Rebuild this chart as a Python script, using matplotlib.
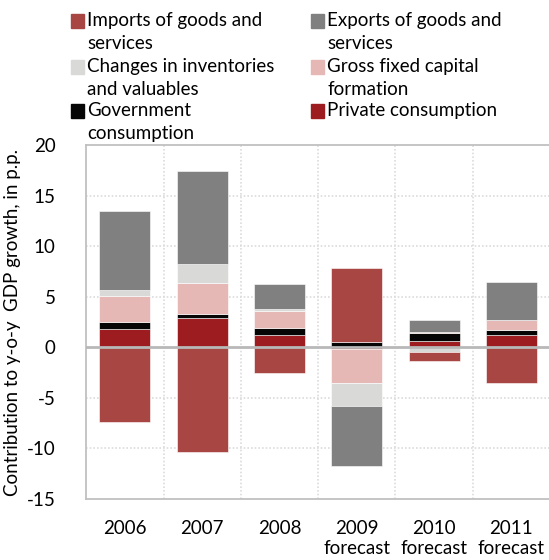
import matplotlib
matplotlib.use("Agg")
import matplotlib.pyplot as plt
from matplotlib.patches import Rectangle
import numpy as np

plt.rcParams['font.family'] = ['Lato', 'DejaVu Sans']
plt.rcParams['axes.unicode_minus'] = False

years = ["2006", "2007", "2008", "2009\nforecast", "2010\nforecast", "2011\nforecast"]

# contributions to GDP growth, percentage points
private_consumption = [1.8, 2.9, 1.2, -0.2, 0.65, 1.2]
government_consumption = [0.7, 0.35, 0.7, 0.5, 0.75, 0.55]
gross_fixed_capital = [2.6, 3.1, 1.7, -3.3, 0.15, 0.95]
inventories = [0.55, 1.9, 0.2, -2.3, -0.45, 0.0]
exports = [7.85, 9.2, 2.45, -5.95, 1.1, 3.75]
imports = [-7.4, -10.4, -2.55, 7.3, -0.95, -3.5]

series = [
    ("Private consumption", private_consumption, "#9c1c20"),
    ("Government\nconsumption", government_consumption, "#060606"),
    ("Gross fixed capital\nformation", gross_fixed_capital, "#e6b8b5"),
    ("Changes in inventories\nand valuables", inventories, "#d9d9d7"),
    ("Exports of goods and\nservices", exports, "#808080"),
    ("Imports of goods and\nservices", imports, "#a84644"),
]

fig = plt.figure(figsize=(5.49, 5.60), dpi=100)
ax = fig.add_axes([0.157, 0.109, 0.845, 0.632])

x = np.arange(len(years))
pos_base = np.zeros(len(years))
neg_base = np.zeros(len(years))
for name, vals, col in series:
    vals = np.array(vals)
    base = np.where(vals >= 0, pos_base, neg_base)
    ax.bar(x, vals, bottom=base, width=0.66, color=col,
           edgecolor="#ffffff", linewidth=0.4, zorder=3)
    pos_base += np.where(vals >= 0, vals, 0)
    neg_base += np.where(vals < 0, vals, 0)

ax.set_xlim(-0.5, len(years) - 0.5)
ax.set_ylim(-15, 20)
ax.set_yticks(range(-15, 21, 5))
ax.set_xticks(x)
ax.set_xticklabels(years, fontsize=13.5, linespacing=1.25)
ax.tick_params(axis="both", length=0, labelsize=13.5)
ax.tick_params(axis="x", pad=15)
ax.tick_params(axis="y", pad=22)

for yv in [-10, -5, 5, 10, 15]:
    ax.axhline(yv, color="#dcdcdc", linestyle=(0, (1, 1.2)), linewidth=1.2, zorder=1)
for xv in np.arange(0.5, len(years) - 0.5, 1):
    ax.axvline(xv, color="#dcdcdc", linestyle=(0, (1, 1.2)), linewidth=1.2, zorder=1)
ax.axhline(0, color="#b8b8b8", linewidth=2, zorder=4)

for s in ax.spines.values():
    s.set_color("#c0c0c0")
    s.set_linewidth(1.3)

ax.set_ylabel("Contribution to y-o-y  GDP growth, in p.p.", fontsize=13.5, labelpad=4)

# legend drawn by hand, two columns, square beside the first line of each label
legend_order = [5, 4, 3, 2, 1, 0]
col_x = [71, 311]
row_y = [12, 58, 102]
for i, idx in enumerate(legend_order):
    name, _, col = series[idx]
    cx = col_x[i % 2]
    ry = row_y[i // 2]
    fig.patches.append(Rectangle((cx / 549, 1 - (ry + 15.5) / 560), 12.5 / 549, 13 / 560,
                                 transform=fig.transFigure, color=col, figure=fig))
    fig.text((cx + 16) / 549, 1 - ry / 560, name, fontsize=13.5, va="top",
             ha="left", linespacing=1.4)

fig.savefig("out.png", dpi=100)
